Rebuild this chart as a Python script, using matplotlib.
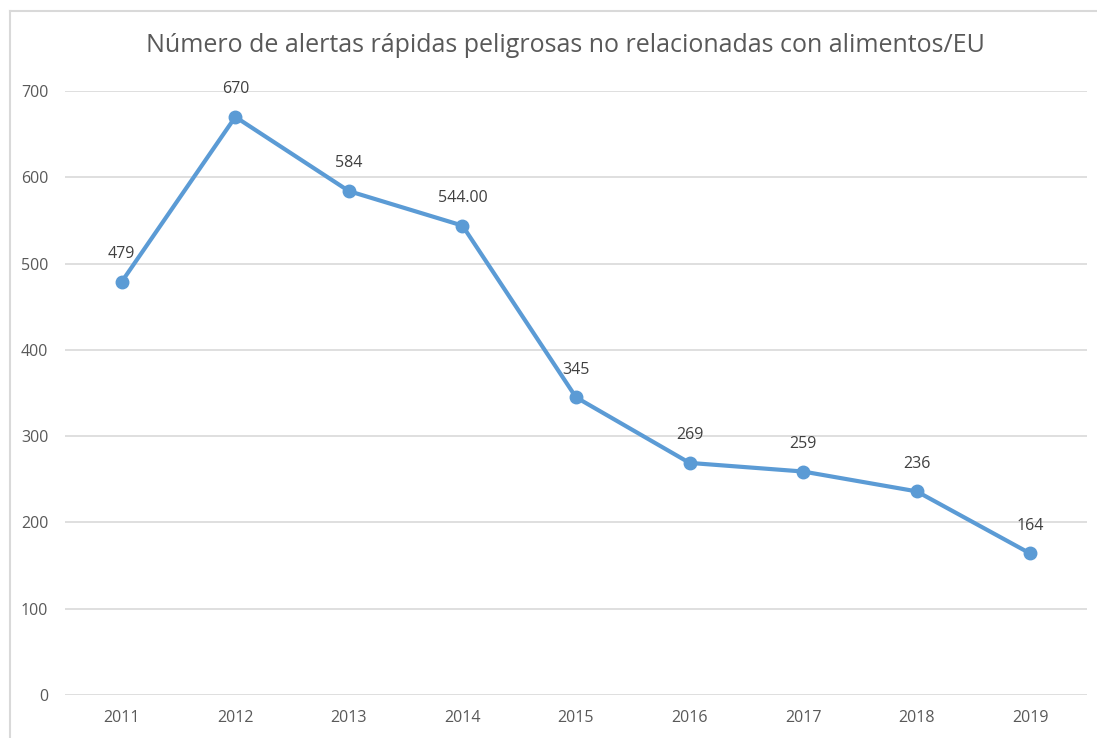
import matplotlib.pyplot as plt
from matplotlib.lines import Line2D

plt.rcParams['font.family'] = ['Open Sans', 'DejaVu Sans']

YEARS = ["2011", "2012", "2013", "2014", "2015", "2016", "2017", "2018", "2019"]
ALERTS = [479, 670, 584, 544, 345, 269, 259, 236, 164]
LABELS = ["479", "670", "584", "544.00", "345", "269", "259", "236", "164"]
Y_TICKS = [0, 100, 200, 300, 400, 500, 600, 700]

LINE_COLOR = '#5B9BD5'
GRID_COLOR = '#D9D9D9'


def main():
    fig = plt.figure(figsize=(10.97, 7.38), dpi=100)
    ax = fig.add_axes([65 / 1097, 43 / 738, (1087 - 65) / 1097, 604 / 738])

    x = list(range(len(YEARS)))
    ax.plot(x, ALERTS, color=LINE_COLOR, linewidth=3, marker='o',
            markersize=9, solid_capstyle='round', zorder=3)

    # data labels above each point
    for xi, v, lab in zip(x, ALERTS, LABELS):
        ax.annotate(lab, (xi, v), xytext=(0, 20), textcoords='offset points',
                    ha='center', va='center', fontsize=11.5, color='#404040')

    ax.set_xlim(-0.5, len(YEARS) - 0.5)
    ax.set_ylim(0, 700)
    ax.set_xticks(x)
    ax.set_xticklabels(YEARS)
    ax.set_yticks(Y_TICKS)
    ax.grid(axis='y', color=GRID_COLOR, linewidth=1.2)
    ax.set_axisbelow(True)
    for s in ax.spines.values():
        s.set_visible(False)
    ax.tick_params(length=0, labelsize=11.5, labelcolor='#595959', pad=11)
    ax.tick_params(axis='y', pad=12)

    fig.text(565 / 1097, 1 - 45 / 738,
             "Número de alertas rápidas peligrosas no relacionadas con alimentos/EU",
             ha='center', va='center', fontsize=18, color='#595959')

    # chart frame (top and left edges visible)
    fig.add_artist(Line2D([10 / 1097, 1], [1 - 11 / 738, 1 - 11 / 738],
                          transform=fig.transFigure, color=GRID_COLOR, linewidth=1.5))
    fig.add_artist(Line2D([10 / 1097, 10 / 1097], [0, 1 - 11 / 738],
                          transform=fig.transFigure, color=GRID_COLOR, linewidth=1.5))

    fig.savefig('out.png', dpi=100)


if __name__ == '__main__':
    main()
